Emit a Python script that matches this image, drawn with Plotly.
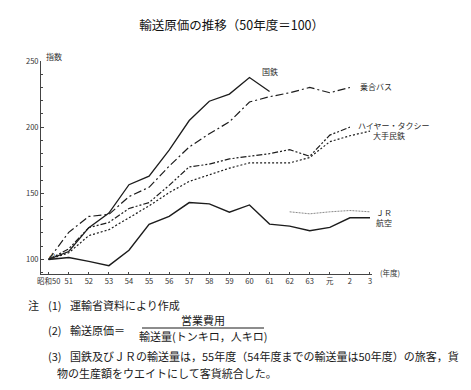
import plotly.graph_objects as go

# ---- data (fiscal years: 昭和50 .. 平成3; 元=64, 2=65, 3=66) ----
years_all = [50, 51, 52, 53, 54, 55, 56, 57, 58, 59, 60, 61, 62, 63, 64, 65, 66]
tick_labels = ["昭和50", "51", "52", "53", "54", "55", "56", "57", "58", "59",
               "60", "61", "62", "63", "元", "2", "3"]

kokutetsu_years = years_all[:12]
kokutetsu = [100, 106, 124, 135, 156.5, 163, 182.6, 205, 219.6, 225, 237.5, 227]

bus_years = years_all[:16]
bus = [100, 120.5, 132.5, 134, 147.5, 154.5, 170.5, 185, 195, 204, 219, 223, 226, 230, 226, 230]

taxi_years = years_all[:16]
taxi = [100, 108, 124, 128, 138.5, 143, 156, 170, 172, 176, 178, 180, 183, 178, 194, 200]

mintetsu_years = years_all
mintetsu = [100, 105, 118, 122.5, 131.5, 140.5, 150.5, 159, 164, 169, 173, 173, 173, 177, 189, 193.5, 197]

jr_years = years_all[12:]
jr = [136, 134.5, 136, 137, 136]

koku_years = years_all
koku = [100, 101.5, 98.5, 95.3, 107, 126.5, 132.5, 143, 142, 135.7, 141.2, 126.7, 125.2, 121.7, 124.2, 131.5, 131.5]

W, H = 471, 390
L, R, T, B = 33, 107, 53, 124
PW, PH = W - L - R, H - T - B
FONT = "Noto Sans CJK JP"
INK = "#1c1c1c"


def px(X):
    return (X - L) / PW


def py(Y):
    return (H - B - Y) / PH


fig = go.Figure()
series = [
    ("国鉄", kokutetsu_years, kokutetsu, "solid", 1.3, INK),
    ("乗合バス", bus_years, bus, "8px,3px,2px,3px", 1.2, INK),
    ("ハイヤー・タクシー", taxi_years, taxi, "6px,2px,2px,2px,2px,2px", 1.2, INK),
    ("大手民鉄", mintetsu_years, mintetsu, "2px,2px", 1.2, INK),
    ("ＪＲ", jr_years, jr, "2px,1px", 1.0, "#8a8a8a"),
    ("航空", koku_years, koku, "solid", 1.4, INK),
]
for name, xs, ys, dash, w, c in series:
    fig.add_trace(go.Scatter(x=xs, y=ys, mode="lines", name=name,
                             line=dict(color=c, width=w, dash=dash),
                             showlegend=False, hoverinfo="skip"))

# line labels (pixel positions of the label text, left edge / vertical centre)
labels = [
    ("国鉄", 252, 63),
    ("乗合バス", 350, 78),
    ("ハイヤー・タクシー", 348, 117),
    ("大手民鉄", 363, 127),
    ("ＪＲ", 366, 204),
    ("航空", 366, 214),
]
ann = []
for t, X, Y in labels:
    ann.append(dict(x=px(X), y=py(Y), xref="paper", yref="paper", text=t,
                    showarrow=False, xanchor="left", yanchor="middle",
                    font=dict(family=FONT, size=8, color="#2a2a2a")))

# axis extras
ann.append(dict(x=px(36), y=py(41), xref="paper", yref="paper", text="指数",
                showarrow=False, font=dict(family=FONT, size=8, color="#333")))
ann.append(dict(x=px(370), y=py(272), xref="paper", yref="paper", text="(年度)",
                showarrow=False, xanchor="left",
                font=dict(family=FONT, size=7.5, color="#333")))
ann.append(dict(x=px(33), y=py(258), xref="paper", yref="paper", text="≈",
                showarrow=False, textangle=-60,
                font=dict(family=FONT, size=9, color="#333")))

# notes
nf = dict(family=FONT, size=11, color="#1a1a1a")
notes = [
    ("注", 18, 297),
    ("(1)", 38, 297),
    ("運輸省資料により作成", 60, 297),
    ("(2)", 38, 322),
    ("輸送原価＝", 60, 322),
    ("(3)", 38, 348),
    ("国鉄及びＪＲの輸送量は，55年度（54年度までの輸送量は50年度）の旅客，貨", 60, 348),
    ("物の生産額をウエイトにして客貨統合した。", 47, 365),
]
for t, X, Y in notes:
    ann.append(dict(x=px(X), y=py(Y), xref="paper", yref="paper", text=t,
                    showarrow=False, xanchor="left", yanchor="middle", font=nf))
ann.append(dict(x=px(195), y=py(312), xref="paper", yref="paper", text="営業費用",
                showarrow=False, xanchor="center", yanchor="middle", font=nf))
ann.append(dict(x=px(195), y=py(328), xref="paper", yref="paper",
                text="輸送量(トンキロ，人キロ)",
                showarrow=False, xanchor="center", yanchor="middle", font=nf))

fig.add_shape(type="line", xref="paper", yref="paper",
              x0=px(134), x1=px(256), y0=py(320), y1=py(320),
              line=dict(color="#1a1a1a", width=1))

fig.update_layout(
    width=W, height=H,
    margin=dict(l=L, r=R, t=T, b=B),
    paper_bgcolor="white", plot_bgcolor="white",
    title=dict(text="輸送原価の推移（50年度＝100）", x=0.475, xanchor="center",
               y=1 - 18 / H, yanchor="middle",
               font=dict(family=FONT, size=12.5, color="#111")),
    annotations=ann,
    xaxis=dict(range=[49.62, 66.1], tickvals=years_all, ticktext=tick_labels,
               showgrid=False, zeroline=False, showline=True, linecolor="#444",
               linewidth=1, ticks="inside", ticklen=2, tickcolor="#444",
               tickfont=dict(family=FONT, size=7.5, color="#333")),
    yaxis=dict(range=[89, 250], tickvals=[100, 150, 200, 250],
               showgrid=False, zeroline=False, showline=True, linecolor="#444",
               linewidth=1, ticks="inside", ticklen=3, tickcolor="#444",
               minor=dict(dtick=10, ticks="inside", ticklen=2, tickcolor="#444"),
               tickfont=dict(family=FONT, size=7.5, color="#333")),
)

fig.write_html("out.html")
